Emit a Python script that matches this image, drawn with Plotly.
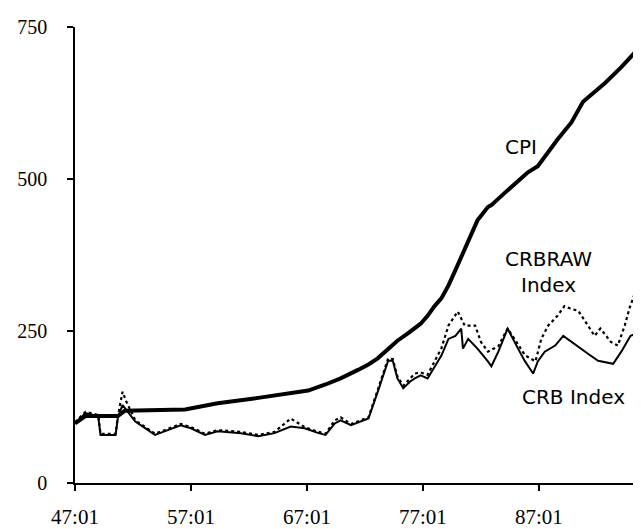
import plotly.graph_objects as go

# ---- data (x = decimal year, 47.0 = 1947:01) ----
cpi_x = [47.0, 47.9, 50.7, 51.3, 56.5, 59.3, 62.8, 65.6, 67.1, 68.6, 69.9, 71.4, 72.3,
         73.1, 74.0, 74.8, 75.7, 76.8, 77.4, 78.0, 78.6, 79.2, 79.8, 80.3, 80.9, 81.3,
         81.7, 82.6, 82.9, 84.1, 85.8, 86.05, 86.9, 88.6, 89.8, 90.8, 92.7, 94.1, 95.7]
cpi_y = [98, 110, 110, 119, 121, 131, 140, 147, 152, 162, 172, 186, 195,
         205, 220, 234, 246, 262, 275, 291, 304, 325, 350, 372, 398, 418,
         432, 454, 457, 478, 505, 511, 521, 565, 593, 627, 658, 684, 717]

crb_x = [47.0, 47.9, 49.0, 49.2, 50.5, 50.7, 51.1, 52.2, 53.3, 53.9, 55.0, 56.1, 57.0,
         58.2, 59.3, 61.3, 62.8, 64.2, 65.6, 66.8, 68.0, 68.6, 69.4, 69.9, 70.8, 71.7,
         72.3, 73.1, 73.7, 74.0, 74.4, 74.8, 75.3, 75.9, 76.3, 76.8, 77.4, 78.0, 78.6,
         79.2, 79.8, 80.3, 80.45, 80.9, 81.7, 82.6, 82.9, 83.5, 84.3, 85.2, 85.8, 86.5,
         86.9, 87.5, 88.4, 89.1, 89.8, 90.6, 91.2, 92.1, 93.4, 94.1, 94.9, 95.8]
crb_y = [98, 115, 110, 79, 79, 108, 128, 101, 87, 79, 87, 95, 90,
         79, 85, 82, 77, 82, 93, 90, 82, 79, 98, 103, 95, 101,
         106, 150, 183, 201, 201, 172, 156, 167, 172, 177, 172, 192, 210,
         237, 242, 254, 221, 237, 221, 200, 192, 216, 254, 221, 200, 180,
         200, 216, 226, 242, 232, 221, 213, 201, 196, 216, 242, 249]

crbraw_x = [47.0, 47.9, 49.0, 49.2, 50.5, 50.7, 51.1, 51.4, 52.2, 53.3, 53.9, 55.0, 56.1,
            57.0, 58.2, 59.3, 61.3, 62.8, 64.2, 65.6, 66.8, 68.0, 68.6, 69.4, 69.9, 70.8,
            71.7, 72.3, 73.1, 73.7, 74.0, 74.4, 74.8, 75.3, 75.9, 76.3, 76.8, 77.4, 78.0,
            78.6, 79.2, 79.8, 80.0, 80.6, 81.5, 82.0, 82.6, 83.5, 84.3, 85.2, 85.8, 86.7,
            87.2, 87.8, 88.6, 89.2, 89.7, 90.4, 91.0, 91.8, 92.3, 93.2, 93.8, 94.4, 94.8,
            95.3, 95.6, 95.8]
crbraw_y = [100, 117, 112, 81, 81, 110, 150, 135, 103, 89, 81, 89, 97,
            92, 81, 87, 84, 79, 84, 106, 92, 84, 81, 103, 108, 97,
            103, 108, 153, 186, 205, 204, 175, 160, 172, 180, 182, 178, 200,
            222, 259, 278, 282, 259, 259, 232, 216, 225, 254, 228, 210, 200,
            237, 259, 275, 291, 287, 283, 265, 242, 254, 232, 226, 259, 287,
            314, 300, 300]

x_tick_vals = [47, 57, 67, 77, 87]
x_tick_text = ["47:01", "57:01", "67:01", "77:01", "87:01"]
y_tick_vals = [0, 250, 500, 750]
y_tick_text = ["0", "250", "500", "750"]

fig = go.Figure()
fig.add_trace(go.Scatter(x=crbraw_x, y=crbraw_y, mode="lines", name="CRBRAW Index",
                         line=dict(color="black", width=2.2, dash="dot")))
fig.add_trace(go.Scatter(x=crb_x, y=crb_y, mode="lines", name="CRB Index",
                         line=dict(color="black", width=2)))
fig.add_trace(go.Scatter(x=cpi_x, y=cpi_y, mode="lines", name="CPI",
                         line=dict(color="black", width=4)))

label_font = dict(family="DejaVu Sans", size=20, color="black")
fig.add_annotation(x=85.45, y=553, text="CPI", showarrow=False, font=label_font)
fig.add_annotation(x=87.86, y=347, text="CRBRAW<br>Index", showarrow=False, font=label_font)
fig.add_annotation(x=90.02, y=141, text="CRB Index", showarrow=False, font=label_font)

fig.update_layout(
    width=641, height=529,
    margin=dict(l=67, r=8, t=18, b=53),
    paper_bgcolor="white", plot_bgcolor="white",
    showlegend=False,
    xaxis=dict(range=[47, 95.8], tickvals=x_tick_vals, ticktext=x_tick_text,
               showgrid=False, zeroline=False, showline=True, linecolor="black",
               linewidth=1.5, ticks="outside", ticklen=6, tickwidth=1.5, tickcolor="black",
               ticklabelstandoff=8,
               tickfont=dict(family="Liberation Serif", size=21, color="black")),
    yaxis=dict(range=[0, 750], tickvals=y_tick_vals, ticktext=y_tick_text,
               showgrid=False, zeroline=False, showline=True, linecolor="black",
               linewidth=1.5, ticks="outside", ticklen=6, tickwidth=1.5, tickcolor="black",
               ticklabelstandoff=16,
               tickfont=dict(family="Liberation Serif", size=20, color="black")),
)

fig.write_html("out.html")
